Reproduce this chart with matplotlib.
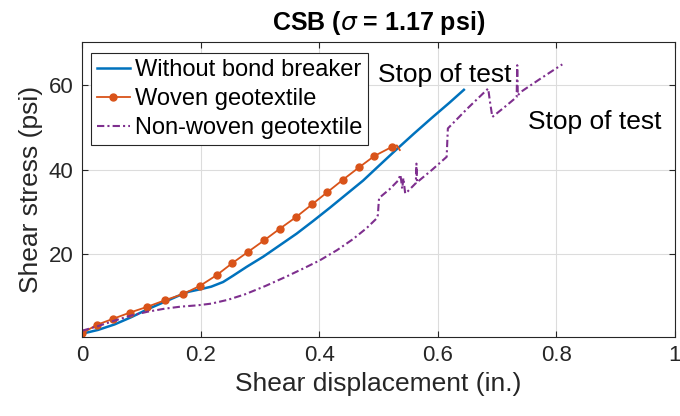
import matplotlib
matplotlib.use("Agg")
import matplotlib.pyplot as plt

# Without bond breaker
x_none = [0, 0.027, 0.055, 0.083, 0.111, 0.139, 0.162, 0.18, 0.2, 0.218, 0.238, 0.255,
          0.278, 0.306, 0.334, 0.362, 0.39, 0.418, 0.446, 0.474, 0.5, 0.53, 0.56, 0.59,
          0.62, 0.644]
y_none = [1.3, 2.2, 3.5, 5.2, 7.1, 8.8, 10.2, 11.2, 11.8, 12.4, 13.5, 15.0,
          17.1, 19.5, 22.2, 24.9, 27.9, 31.0, 34.2, 37.4, 40.8, 44.7, 48.5, 52.2,
          55.8, 58.8]

# Woven geotextile
x_woven = [0, 0.025, 0.052, 0.081, 0.109, 0.14, 0.171, 0.199, 0.227, 0.253, 0.28,
           0.307, 0.334, 0.361, 0.388, 0.414, 0.44, 0.467, 0.493, 0.522, 0.531, 0.536]
y_woven = [1.4, 3.4, 4.8, 6.3, 7.6, 9.2, 10.7, 12.6, 15.1, 17.9, 20.6,
           23.3, 26.1, 28.8, 31.8, 34.7, 37.6, 40.5, 43.2, 45.3, 45.7, 44.6]
n_marked = 20

# Non-woven geotextile
x_nonwoven = [0, 0.027, 0.055, 0.083, 0.111, 0.139, 0.167, 0.195, 0.218, 0.246, 0.275,
              0.31, 0.345, 0.375, 0.401, 0.43, 0.457, 0.48, 0.497, 0.499, 0.5, 0.501,
              0.519, 0.533, 0.537, 0.540, 0.542, 0.545, 0.546, 0.563, 0.564, 0.565,
              0.59, 0.615, 0.616, 0.617, 0.65, 0.685, 0.688, 0.692, 0.715, 0.733,
              0.734, 0.735, 0.74, 0.775, 0.81]
y_nonwoven = [2.0, 3.1, 4.4, 5.6, 6.5, 7.2, 7.7, 8.0, 8.4, 9.3, 10.6,
              12.6, 14.8, 16.8, 18.6, 21.0, 23.6, 26.2, 28.5, 29.3, 31.5, 33.3,
              35.4, 37.4, 38.8, 35.5, 38.0, 34.4, 34.4, 36.8, 41.4, 37.0,
              39.9, 43.0, 46.5, 49.7, 54.4, 59.1, 56.0, 52.4, 55.0, 57.1,
              64.6, 57.5, 58.3, 61.6, 64.8]

labels = ["Without bond breaker", "Woven geotextile", "Non-woven geotextile"]
colors = ["#0072BD", "#D95319", "#7E2F8E"]

plt.rcParams["font.family"] = ["Liberation Sans", "DejaVu Sans"]

fig = plt.figure(figsize=(6.8, 4.16), dpi=100)
ax = fig.add_axes([0.1206, 0.1906, 0.872, 0.7077])

ax.plot(x_none, y_none, "-", color=colors[0], lw=1.8, label=labels[0])
ax.plot(x_woven, y_woven, "-o", color=colors[1], lw=1.3, ms=5,
        markevery=list(range(n_marked)), label=labels[1])
ax.plot(x_nonwoven, y_nonwoven, color=colors[2], lw=1.5,
        linestyle=(0, (3.5, 1.5, 1, 1.5)), label=labels[2])

ax.text(0.499, 62.2, "Stop of test", fontsize=19, ha="left", va="center")
ax.text(0.752, 51.3, "Stop of test", fontsize=19, ha="left", va="center")

ax.set_xlim(0, 1)
ax.set_ylim(0.6, 70)
ax.set_xticks([0, 0.2, 0.4, 0.6, 0.8, 1])
ax.set_xticklabels(["0", "0.2", "0.4", "0.6", "0.8", "1"])
ax.set_yticks([20, 40, 60])
ax.grid(True, color="#dcdcdc", lw=0.8)
ax.set_axisbelow(True)
ax.tick_params(direction="in", top=True, right=True, labelsize=16,
               colors="#262626", length=4, pad=6)
for s in ax.spines.values():
    s.set_color("#262626")
    s.set_linewidth(0.8)

ax.set_xlabel("Shear displacement (in.)", fontsize=19, color="#262626")
ax.set_ylabel("Shear stress (psi)", fontsize=19, color="#262626")
ax.set_title(r"CSB ($\sigma$ = 1.17 psi)", fontsize=18, fontweight="bold", pad=9)

leg = ax.legend(loc="upper left", bbox_to_anchor=(0.015, 0.964), borderaxespad=0,
                fontsize=17, handlelength=1.4, handletextpad=0.2, labelspacing=0.3,
                borderpad=0.25, fancybox=False, framealpha=1)
leg.get_frame().set_edgecolor("#262626")
leg.get_frame().set_linewidth(0.8)

plt.savefig("out.png", dpi=100)
plt.close()
